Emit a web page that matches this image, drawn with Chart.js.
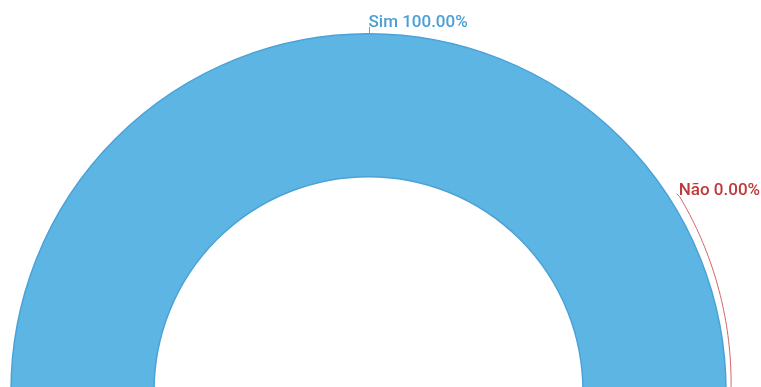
<!DOCTYPE html>
<html>
<head>
<meta charset="utf-8">
<script src="https://cdn.jsdelivr.net/npm/chart.js@4/dist/chart.umd.min.js"></script>
<style>
  html, body { margin: 0; padding: 0; background: #ffffff; overflow: hidden; }
  #wrap { width: 761px; height: 400px; }
</style>
</head>
<body>
<div id="wrap"><canvas id="c" width="761" height="400"></canvas></div>
<script>
// Survey answers and their counts
const labels = ['Sim', 'Não'];
const values = [100, 0];
const fillColors = ['#5db5e3', '#c23b3d'];
const borderColors = ['#4aa2d8', '#c23b3d'];
const textColors = ['#4a9fd4', '#c0393b'];
const lineColors = ['#58a9dc', '#d0666a'];

const total = values.reduce((a, b) => a + b, 0);
const pct = v => (total ? (v / total) * 100 : 0).toFixed(2) + '%';

// Outside labels with leader lines
const outsideLabels = {
  id: 'outsideLabels',
  afterDatasetsDraw(chart) {
    const ctx = chart.ctx;
    const meta = chart.getDatasetMeta(0);
    ctx.save();
    ctx.font = '500 17px Roboto, "Open Sans", sans-serif';
    ctx.textAlign = 'left';
    ctx.textBaseline = 'alphabetic';
    meta.data.forEach((arc, i) => {
      const { x, y, startAngle, endAngle, outerRadius } = arc.getProps(['x', 'y', 'startAngle', 'endAngle', 'outerRadius'], true);
      const text = labels[i] + ' ' + pct(values[i]);
      ctx.strokeStyle = lineColors[i];
      ctx.fillStyle = textColors[i];
      ctx.lineWidth = 1;
      if (values[i] > 0) {
        const mid = (startAngle + endAngle) / 2;
        const x0 = x + Math.cos(mid) * outerRadius;
        const y0 = y + Math.sin(mid) * outerRadius;
        const x1 = x + Math.cos(mid) * (outerRadius + 7);
        const y1 = y + Math.sin(mid) * (outerRadius + 7);
        ctx.beginPath();
        ctx.moveTo(Math.round(x0) + 0.5, y0);
        ctx.lineTo(Math.round(x1) + 0.5, y1);
        ctx.stroke();
        ctx.fillText(text, x1, y1);
      } else {
        // empty slice: curve from its position up to a free spot
        const a0 = endAngle;
        const a1 = endAngle - 32 * Math.PI / 180;
        const r0 = outerRadius + 5;
        const r1 = outerRadius + 9.5;
        ctx.beginPath();
        const steps = 40;
        for (let s = 0; s <= steps; s++) {
          const t = s / steps;
          const a = a0 + (a1 - a0) * t;
          const r = r0 + (r1 - r0) * t;
          const px = x + Math.cos(a) * r;
          const py = y + Math.sin(a) * r;
          if (s === 0) ctx.moveTo(px, py); else ctx.lineTo(px, py);
        }
        const ex = x + Math.cos(a1) * r1;
        const ey = y + Math.sin(a1) * r1;
        ctx.lineTo(ex - 3, ey - 3);
        ctx.stroke();
        ctx.fillText(text, ex - 1, ey - 1.5);
      }
    });
    ctx.restore();
  }
};

new Chart(document.getElementById('c'), {
  type: 'doughnut',
  data: {
    labels: labels,
    datasets: [{
      data: values,
      backgroundColor: fillColors,
      borderColor: borderColors,
      borderWidth: values.map(v => (v > 0 ? 1.5 : 0))
    }]
  },
  options: {
    responsive: false,
    animation: false,
    rotation: -90,
    circumference: 180,
    cutout: '60%',
    layout: { padding: { top: 33, left: 9, right: 33, bottom: 8 } },
    plugins: {
      legend: { display: false },
      tooltip: { enabled: false }
    }
  },
  plugins: [outsideLabels]
});
</script>
</body>
</html>
